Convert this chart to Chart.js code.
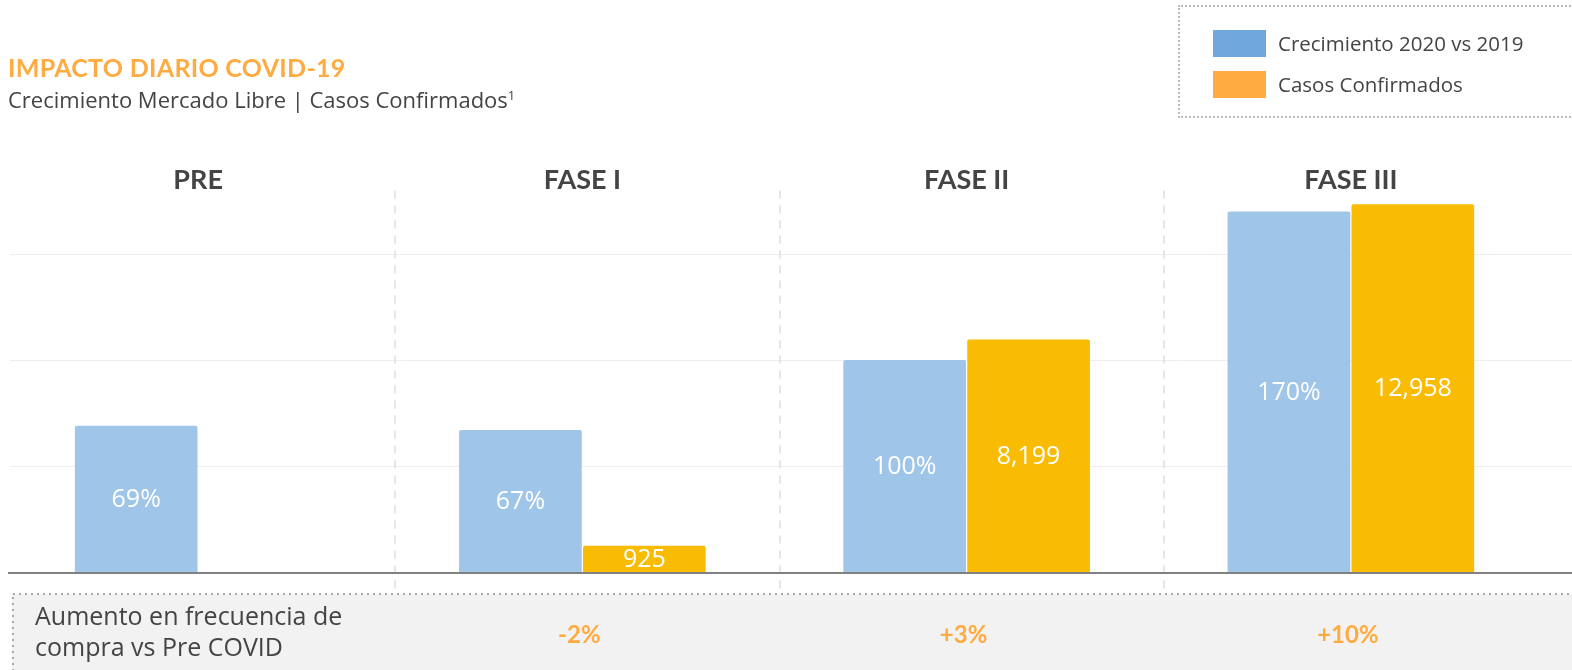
<!DOCTYPE html>
<html>
<head>
<meta charset="utf-8">
<script src="https://cdn.jsdelivr.net/npm/chart.js@4"></script>
<style>
  html, body { margin: 0; padding: 0; background: #fff; }
  body { width: 1572px; height: 670px; position: relative; overflow: hidden; font-family: "Open Sans", sans-serif; }
  #chart { position: absolute; left: 0; top: 0; }
  .title { position: absolute; left: 8px; top: 52px; color: #ffab40; font-family: "Lato", sans-serif; font-weight: 700; font-size: 25px; letter-spacing: 0.3px; }
  .subtitle { position: absolute; left: 8px; top: 84px; color: #444; font-size: 22px; }
  .subtitle sup { font-size: 13px; }
  .legend { position: absolute; left: 1178px; top: 5px; width: 400px; height: 113px; border: 2px dotted #bbb; box-sizing: border-box; }
  .legend .item { position: absolute; left: 33px; height: 27px; line-height: 27px; font-size: 20.5px; color: #444; }
  .legend .sw { display: inline-block; width: 53px; height: 27px; vertical-align: top; margin-right: 12px; }
</style>
</head>
<body>
<canvas id="chart" width="1572" height="670"></canvas>
<div class="title">IMPACTO DIARIO COVID-19</div>
<div class="subtitle">Crecimiento Mercado Libre | Casos Confirmados<sup>1</sup></div>
<div class="legend" id="legend"></div>
<script>
const fases = ["PRE", "FASE I", "FASE II", "FASE III"];
const crecimiento = [69, 67, 100, 170];
const casos = [null, 925, 8199, 12958];
const frecuencia = [null, "-2%", "+3%", "+10%"];
const seriesNames = ["Crecimiento 2020 vs 2019", "Casos Confirmados"];
const legendColors = ["#6fa8dc", "#ffab40"];
const barColors = ["#9fc5e8", "#f9bc02"];

// legend box top-right
const legend = document.getElementById("legend");
seriesNames.forEach((name, i) => {
  const item = document.createElement("div");
  item.className = "item";
  item.style.top = 23 + i * 41 + "px";
  item.innerHTML = `<span class="sw" style="background:${legendColors[i]}"></span>${name}`;
  legend.appendChild(item);
});

const chromePlugin = {
  id: "chrome",
  beforeDraw(chart) {
    const ctx = chart.ctx;
    const area = chart.chartArea;
    const y = chart.scales.y;
    const x = chart.scales.x;
    ctx.save();
    // bottom panel
    ctx.fillStyle = "#f2f2f2";
    ctx.fillRect(12, 594, chart.width - 12, 80);
    ctx.fillStyle = "#aaa";
    for (let px = 13; px < chart.width; px += 6) ctx.fillRect(px, 593, 2, 2);
    for (let py = 597; py < chart.height; py += 6) ctx.fillRect(12, py, 2, 2);
    // horizontal grid lines
    y.ticks.forEach((t) => {
      if (t.value === 0 || t.value % 50 !== 0) return;
      const py = Math.round(y.getPixelForValue(t.value)) + 0.5;
      ctx.strokeStyle = "#eeeeee";
      ctx.lineWidth = 1;
      ctx.beginPath();
      ctx.moveTo(10, py);
      ctx.lineTo(chart.width, py);
      ctx.stroke();
    });
    // dashed dividers between phases
    ctx.strokeStyle = "#e6e6e6";
    ctx.lineWidth = 2;
    ctx.setLineDash([8, 7]);
    for (let i = 1; i < fases.length; i++) {
      const px = Math.round((x.getPixelForValue(i - 1) + x.getPixelForValue(i)) / 2) + 5;
      ctx.beginPath();
      ctx.moveTo(px, area.top);
      ctx.lineTo(px, 590);
      ctx.stroke();
    }
    ctx.setLineDash([]);
    // bottom panel texts
    ctx.fillStyle = "#444";
    ctx.font = "25px 'Open Sans'";
    ctx.textBaseline = "middle";
    ctx.textAlign = "left";
    ctx.fillText("Aumento en frecuencia de", 35, 618);
    ctx.fillText("compra vs Pre COVID", 35, 649);
    ctx.fillStyle = "#ffab40";
    ctx.font = "bold 24px Lato";
    ctx.textAlign = "center";
    frecuencia.forEach((v, i) => {
      if (v) ctx.fillText(v, x.getPixelForValue(i) - 3, 635);
    });
    ctx.restore();
  },
  afterDatasetsDraw(chart) {
    const ctx = chart.ctx;
    ctx.save();
    // baseline
    const by = Math.round(chart.scales.y.getPixelForValue(0));
    ctx.fillStyle = "#808080";
    ctx.fillRect(8, by, chart.width - 8, 2);
    // value labels
    ctx.fillStyle = "#fff";
    ctx.font = "25px 'Open Sans'";
    ctx.textAlign = "center";
    ctx.textBaseline = "middle";
    chart.data.datasets.forEach((ds, di) => {
      chart.getDatasetMeta(di).data.forEach((bar, i) => {
        const v = ds.data[i];
        if (v == null) return;
        const txt = di === 0 ? v + "%" : v.toLocaleString("en-US");
        ctx.fillText(txt, bar.x, (bar.y + bar.base) / 2 + 1);
      });
    });
    ctx.restore();
  },
};

new Chart(document.getElementById("chart").getContext("2d"), {
  type: "bar",
  data: {
    labels: fases,
    datasets: [
      {
        label: seriesNames[0],
        data: crecimiento,
        backgroundColor: barColors[0],
        yAxisID: "y",
        borderRadius: { topLeft: 2, topRight: 2 },
        borderSkipped: "bottom",
      },
      {
        label: seriesNames[1],
        data: casos,
        backgroundColor: barColors[1],
        yAxisID: "y2",
        borderRadius: { topLeft: 2, topRight: 2 },
        borderSkipped: "bottom",
      },
    ],
  },
  options: {
    responsive: false,
    animation: false,
    categoryPercentage: 0.645,
    barPercentage: 0.99,
    layout: { padding: { left: 6, right: 29, top: 170, bottom: 98 } },
    plugins: {
      legend: { display: false },
      tooltip: { enabled: false },
    },
    scales: {
      x: {
        position: "top",
        grid: { display: false, drawTicks: false },
        border: { display: false },
        ticks: {
          color: "#444",
          padding: -6,
          font: { family: "Lato", size: 27, weight: "bold", lineHeight: 1.2 },
        },
      },
      y: {
        display: false,
        min: 0,
        max: 180,
        ticks: { stepSize: 50 },
      },
      y2: {
        display: false,
        min: 0,
        max: 13450,
      },
    },
  },
  plugins: [chromePlugin],
});
</script>
</body>
</html>
